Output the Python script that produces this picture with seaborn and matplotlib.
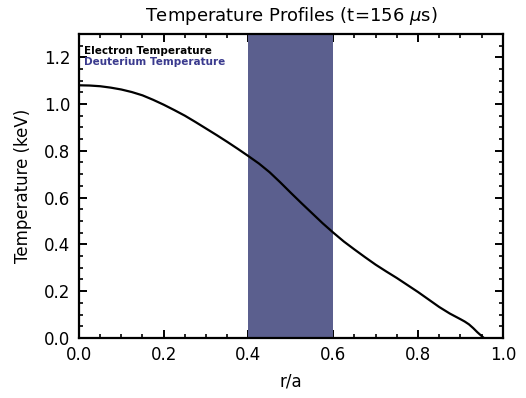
import matplotlib
matplotlib.use("Agg")
import matplotlib.pyplot as plt
from matplotlib.ticker import MultipleLocator
import pandas as pd
import seaborn as sns

# Electron temperature profile vs normalized radius
r_over_a = [0.0, 0.025, 0.05, 0.075, 0.10, 0.125, 0.15, 0.175, 0.20, 0.225,
            0.25, 0.275, 0.30, 0.325, 0.35, 0.375, 0.40, 0.425, 0.45, 0.475,
            0.50, 0.525, 0.55, 0.575, 0.60, 0.625, 0.65, 0.675, 0.70, 0.725,
            0.75, 0.775, 0.80, 0.825, 0.85, 0.875, 0.90, 0.91, 0.92, 0.93,
            0.94, 0.95, 0.955]
te_kev = [1.080, 1.079, 1.076, 1.070, 1.062, 1.051, 1.037, 1.018, 0.997, 0.974,
          0.950, 0.923, 0.895, 0.867, 0.838, 0.808, 0.777, 0.745, 0.708, 0.665,
          0.620, 0.576, 0.533, 0.490, 0.450, 0.412, 0.378, 0.345, 0.313, 0.284,
          0.256, 0.226, 0.196, 0.164, 0.132, 0.104, 0.080, 0.070, 0.058, 0.042,
          0.024, 0.008, 0.0]

# Highlighted radial region
band_lo, band_hi = 0.4, 0.6

title = r"Temperature Profiles (t=156 $\mu$s)"
legend_labels = ["Electron Temperature", "Deuterium Temperature"]
legend_colors = ["black", "#3a3a8e"]

sns.set_theme(style="ticks")
plt.rcParams["font.family"] = ["DejaVu Sans"]
plt.rcParams["mathtext.fontset"] = "dejavusans"

df = pd.DataFrame({"r/a": r_over_a, "Te": te_kev})

fig = plt.figure(figsize=(5.26, 3.98), dpi=100)
ax = fig.add_axes([0.150, 0.151, 0.806, 0.764])

ax.axvspan(band_lo, band_hi, color="#5b5f8e", lw=0, zorder=1)
sns.lineplot(data=df, x="r/a", y="Te", color="black", lw=1.6, ax=ax, zorder=3)

ax.set_xlim(0, 1.0)
ax.set_ylim(0, 1.3)
ax.xaxis.set_minor_locator(MultipleLocator(0.05))
ax.yaxis.set_minor_locator(MultipleLocator(0.05))
ax.set_xticks([0.0, 0.2, 0.4, 0.6, 0.8, 1.0])
ax.set_yticks([0.0, 0.2, 0.4, 0.6, 0.8, 1.0, 1.2])
ax.set_xticklabels(["0.0", "0.2", "0.4", "0.6", "0.8", "1.0"])
ax.set_yticklabels(["0.0", "0.2", "0.4", "0.6", "0.8", "1.0", "1.2"])

ax.tick_params(which="both", direction="in", top=True, right=True,
               color="black", labelsize=12, labelcolor="black")
ax.tick_params(which="major", length=6, width=1.4, pad=6)
ax.tick_params(which="minor", length=3, width=1.2)
for s in ax.spines.values():
    s.set_linewidth(1.6)
    s.set_color("black")

ax.set_xlabel("r/a", fontsize=12, color="black", labelpad=6)
ax.set_ylabel("Temperature (keV)", fontsize=12, color="black", labelpad=9)
ax.set_title(title, fontsize=13, color="black", pad=9)

for i, (lab, c) in enumerate(zip(legend_labels, legend_colors)):
    ax.text(0.012, 0.944 - i * 0.037, lab, transform=ax.transAxes, fontsize=7.5,
            fontweight="bold", color=c, va="center", ha="left")

fig.savefig("out.png", dpi=100)
